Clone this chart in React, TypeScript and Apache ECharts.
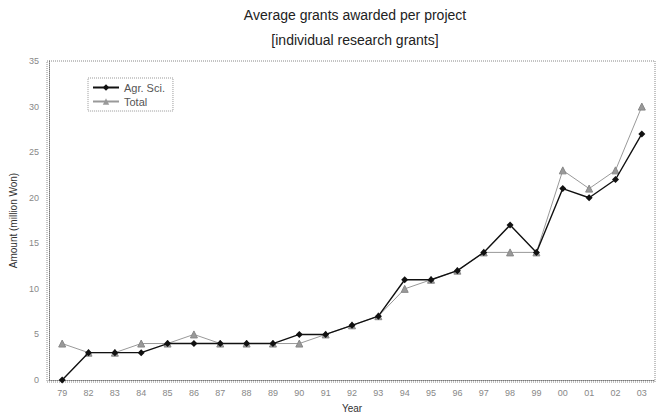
import React, { useEffect, useRef } from "react";
import * as echarts from "echarts";

const years = ["79","82","83","84","85","86","87","88","89","90","91","92","93","94","95","96","97","98","99","00","01","02","03"];
const agrSci = [0,3,3,3,4,4,4,4,4,5,5,6,7,11,11,12,14,17,14,21,20,22,27];
const total = [4,3,3,4,4,5,4,4,4,4,5,6,7,10,11,12,14,14,14,23,21,23,30];

export default function App() {
  const ref = useRef<HTMLDivElement>(null);
  useEffect(() => {
    const chart = echarts.init(ref.current!, null, { renderer: "svg" });
    const font = "Liberation Sans, Arial, sans-serif";
    chart.setOption({
      animation: false,
      backgroundColor: "#fff",
      title: {
        text: "Average grants awarded per project\n[individual research grants]",
        left: 355,
        textAlign: "center",
        top: 2,
        padding: 0,
        textStyle: { fontFamily: font, fontSize: 14, fontWeight: "normal", color: "#222", lineHeight: 25 },
      },
      legend: {
        left: 88,
        top: 78,
        orient: "vertical",
        itemGap: 3,
        itemWidth: 26,
        itemHeight: 8,
        padding: [4, 8, 4, 4],
        borderColor: "#999",
        borderWidth: 1,
        borderType: "dotted",
        textStyle: { fontFamily: font, fontSize: 11, color: "#555" },
        data: ["Agr. Sci.", "Total"],
      },
      grid: { left: 47, right: 7, top: 61, bottom: 36, containLabel: false },
      xAxis: {
        type: "category",
        data: years,
        boundaryGap: true,
        name: "Year",
        nameLocation: "middle",
        nameGap: 23,
        nameTextStyle: { fontFamily: font, fontSize: 10, color: "#333" },
        axisLine: { lineStyle: { color: "#777", type: "dotted" } },
        axisTick: { show: false },
        axisLabel: { fontFamily: font, fontSize: 9, color: "#888", margin: 8 },
      },
      yAxis: {
        type: "value",
        min: 0,
        max: 35,
        interval: 5,
        name: "Amount (million Won)",
        nameLocation: "middle",
        nameGap: 31,
        nameTextStyle: { fontFamily: font, fontSize: 10, color: "#333" },
        axisLine: { show: true, lineStyle: { color: "#777", type: "dotted" } },
        axisTick: { show: false },
        splitLine: { show: false },
        axisLabel: { fontFamily: font, fontSize: 9, color: "#888", margin: 10 },
      },
      graphic: [
        {
          type: "rect",
          shape: { x: 47, y: 61, width: 608, height: 321 },
          style: { fill: "none", stroke: "#888", lineWidth: 1, lineDash: [1, 1] },
          silent: true,
          z: -1,
        },
      ],
      series: [
        {
          name: "Total",
          type: "line",
          data: total,
          symbol: "triangle",
          symbolSize: 7,
          itemStyle: { color: "#999", borderColor: "#888" },
          lineStyle: { color: "#999", width: 1 },
          z: 2,
        },
        {
          name: "Agr. Sci.",
          type: "line",
          data: agrSci,
          symbol: "diamond",
          symbolSize: 7,
          itemStyle: { color: "#111" },
          lineStyle: { color: "#111", width: 1.4 },
          z: 3,
        },
      ],
    });
    return () => chart.dispose();
  }, []);
  return <div ref={ref} style={{ width: 662, height: 418, position: "absolute", left: 0, top: 0 }} />;
}
